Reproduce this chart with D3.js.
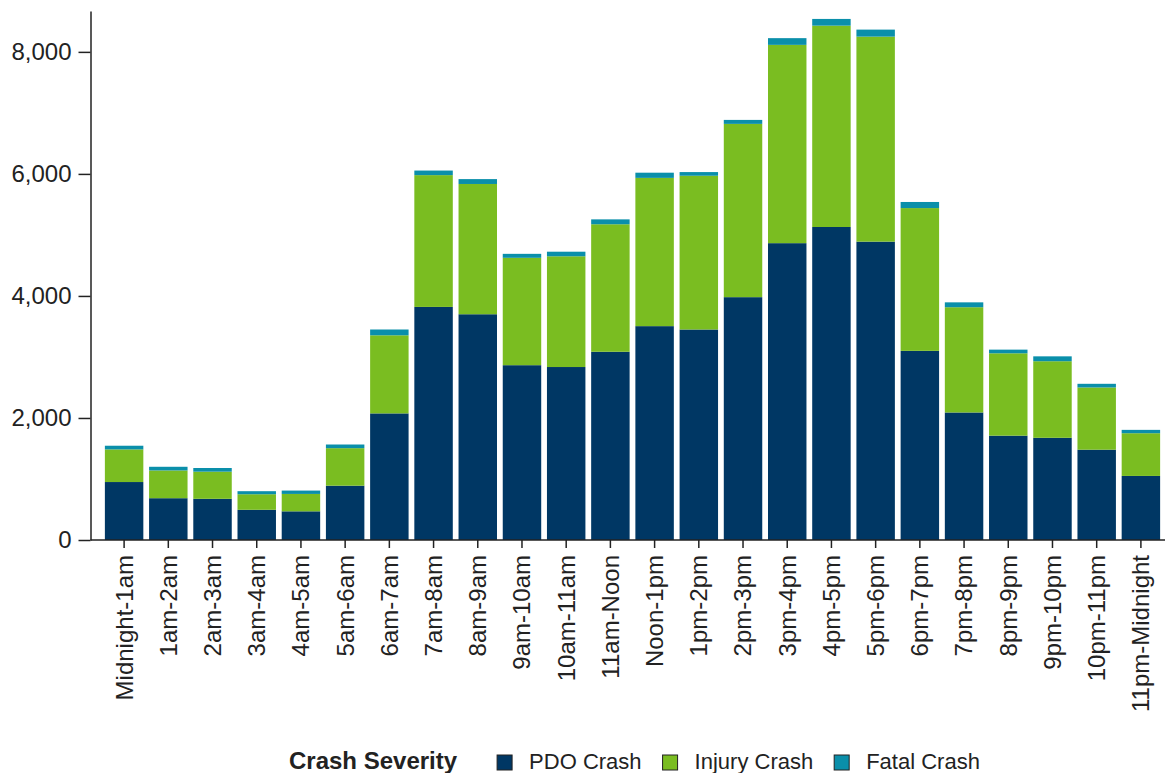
<!DOCTYPE html>
<html>
<head>
<meta charset="utf-8">
<script src="https://cdn.jsdelivr.net/npm/d3@7"></script>
<style>
body { margin: 0; background: #fff; }
svg text { font-family: "Liberation Sans", Arial, sans-serif; fill: #222; }
</style>
</head>
<body>
<svg id="chart" width="1172" height="773"></svg>
<script>
var hours = ["Midnight-1am", "1am-2am", "2am-3am", "3am-4am", "4am-5am", "5am-6am",
	"6am-7am", "7am-8am", "8am-9am", "9am-10am", "10am-11am", "11am-Noon",
	"Noon-1pm", "1pm-2pm", "2pm-3pm", "3pm-4pm", "4pm-5pm", "5pm-6pm",
	"6pm-7pm", "7pm-8pm", "8pm-9pm", "9pm-10pm", "10pm-11pm", "11pm-Midnight"];

var pdo    = [950, 685, 675, 495, 470, 890, 2075, 3820, 3700, 2865, 2835, 3085,
	3505, 3450, 3980, 4865, 5130, 4890, 3100, 2090, 1710, 1675, 1480, 1050];
var injury = [535, 455, 445, 255, 285, 615, 1280, 2160, 2135, 1760, 1815, 2090,
	2430, 2520, 2840, 3250, 3300, 3360, 2340, 1725, 1350, 1255, 1020, 700];
var fatal  = [60, 60, 60, 50, 55, 60, 95, 75, 80, 65, 75, 80,
	85, 60, 65, 110, 110, 115, 100, 80, 60, 80, 60, 55];

var severities = ["PDO Crash", "Injury Crash", "Fatal Crash"];
var colors = ["#003764", "#7abd21", "#0a8faa"];
var yTicks = [0, 2000, 4000, 6000, 8000];
var yMax = 8670;

var svg = d3.select("#chart"),
	axisX = 90.5,
	baseY = 540;

// one row per hour, stacked PDO -> Injury -> Fatal
var rows = hours.map(function(h, i) {
	return { hour: h, "PDO Crash": pdo[i], "Injury Crash": injury[i], "Fatal Crash": fatal[i] };
});
var stack = d3.stack().keys(severities)(rows);

var x = d3.scaleBand()
	.domain(hours)
	.range([102, 1163])
	.paddingInner(0.13)
	.paddingOuter(0.065);

var y = d3.scaleLinear()
	.domain([0, yMax])
	.range([baseY, 11]);

var color = d3.scaleOrdinal().domain(severities).range(colors);

svg.append("g")
	.selectAll("g")
	.data(stack)
	.join("g")
		.attr("fill", function(d) { return color(d.key); })
	.selectAll("rect")
	.data(function(d) { return d; })
	.join("rect")
		.attr("x", function(d) { return x(d.data.hour); })
		.attr("width", x.bandwidth())
		.attr("y", function(d) { return y(d[1]); })
		.attr("height", function(d) { return y(d[0]) - y(d[1]); });

// y axis
var yAxis = svg.append("g")
	.attr("transform", "translate(" + axisX + ",0)")
	.call(d3.axisLeft(y)
		.tickValues(yTicks)
		.tickFormat(d3.format(","))
		.tickSize(12)
		.tickPadding(7)
		.tickSizeOuter(0));
yAxis.selectAll("text").style("font-size", "24px");

// x axis
var xAxis = svg.append("g")
	.attr("transform", "translate(0," + baseY + ")")
	.call(d3.axisBottom(x).tickSize(8).tickSizeOuter(0));
xAxis.select(".domain").remove();
xAxis.append("line")
	.attr("x1", axisX).attr("x2", 1165)
	.attr("stroke", "#222").attr("stroke-width", 1.5);
xAxis.selectAll(".tick text")
	.style("font-size", "24px")
	.attr("text-anchor", "end")
	.attr("transform", "rotate(-90)")
	.attr("x", -15)
	.attr("y", 0)
	.attr("dy", "0.35em");

svg.selectAll(".domain, .tick line").attr("stroke", "#222").attr("stroke-width", 1.5);

// legend
var legend = svg.append("g");
var title = legend.append("text")
	.attr("x", 289)
	.attr("y", 769)
	.style("font-size", "24px")
	.style("font-weight", "bold")
	.text("Crash Severity");

var lx = 289 + title.node().getComputedTextLength() + 40;
severities.forEach(function(s) {
	legend.append("rect")
		.attr("x", lx).attr("y", 755)
		.attr("width", 15).attr("height", 15)
		.attr("fill", color(s))
		.attr("stroke", "#222")
		.attr("stroke-width", 1);
	var t = legend.append("text")
		.attr("x", lx + 32)
		.attr("y", 769)
		.style("font-size", "22px")
		.text(s);
	lx += 32 + t.node().getComputedTextLength() + 21;
});
</script>
</body>
</html>
